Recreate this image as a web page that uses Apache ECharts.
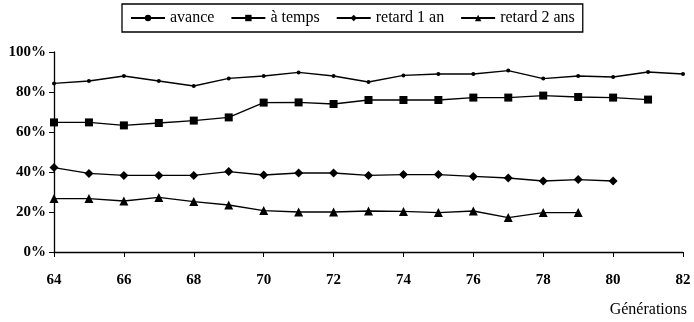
<!DOCTYPE html>
<html>
<head>
<meta charset="utf-8">
<script src="https://cdn.jsdelivr.net/npm/echarts@6/dist/echarts.min.js"></script>
<style>
  html, body { margin: 0; padding: 0; background: #fff; }
  #chart { width: 694px; height: 322px; }
</style>
</head>
<body>
<div id="chart"></div>
<script>
// générations (années)
var generations = [64, 65, 66, 67, 68, 69, 70, 71, 72, 73, 74, 75, 76, 77, 78, 79, 80, 81, 82]
// parts en %
var avance = [84.3, 85.5, 88, 85.5, 83, 86.8, 88, 89.8, 88, 85, 88.3, 89, 89, 90.7, 86.7, 88, 87.5, 90, 89]
var aTemps = [64.8, 64.8, 63.3, 64.5, 65.7, 67.3, 74.7, 74.8, 74, 76, 76, 76, 77.2, 77.2, 78.2, 77.5, 77.2, 76.2]
var retard1 = [42.2, 39.3, 38.3, 38.3, 38.3, 40.2, 38.5, 39.5, 39.5, 38.3, 38.7, 38.7, 37.8, 37, 35.5, 36.2, 35.5]
var retard2 = [26.7, 26.7, 25.5, 27.3, 25.2, 23.5, 20.7, 20, 20, 20.5, 20.3, 19.7, 20.5, 17.2, 19.7, 19.7]

var font = 'Liberation Serif'

function pairs (vals) {
  return vals.map(function (v, i) { return [generations[i], v] })
}

function serie (name, vals, symbol, size) {
  return {
    name: name,
    type: 'line',
    data: pairs(vals),
    symbol: symbol,
    symbolSize: size,
    showSymbol: true,
    color: '#000',
    lineStyle: { color: '#000', width: 1.3 },
    itemStyle: { color: '#000' },
    animation: false
  }
}

var charts = echarts.init(document.getElementById('chart'))
var options = {
  animation: false,
  textStyle: { fontFamily: font },
  legend: {
    top: 4,
    left: 122,
    borderColor: '#000',
    borderWidth: 1.3,
    padding: [6, 8],
    itemGap: 16,
    itemWidth: 34,
    itemHeight: 8,
    textStyle: { fontFamily: font, fontSize: 16, color: '#000' },
    data: ['avance', 'à temps', 'retard 1 an', 'retard 2 ans']
  },
  grid: { left: 54, right: 11, top: 52, bottom: 70 },
  xAxis: {
    type: 'value',
    min: 64,
    max: 82,
    interval: 2,
    axisLine: { show: true, onZero: false, lineStyle: { color: '#000', width: 1.3 } },
    axisTick: { show: true, length: 5, lineStyle: { color: '#000' } },
    splitLine: { show: false },
    axisLabel: { margin: 21, color: '#000', fontFamily: font, fontSize: 15, fontWeight: 'bold' }
  },
  yAxis: {
    type: 'value',
    min: 0,
    max: 100,
    interval: 20,
    axisLine: { show: true, lineStyle: { color: '#000', width: 1.3 } },
    axisTick: { show: true, length: 5, lineStyle: { color: '#000' } },
    splitLine: { show: false },
    axisLabel: { margin: 8, color: '#000', fontFamily: font, fontSize: 15, fontWeight: 'bold', formatter: '{value}%' }
  },
  graphic: [{
    type: 'text',
    right: 7,
    top: 302,
    style: { text: 'Générations', fontFamily: font, fontSize: 16, fill: '#000' }
  }],
  series: [
    serie('avance', avance, 'circle', 4),
    serie('à temps', aTemps, 'rect', 8),
    serie('retard 1 an', retard1, 'diamond', 9),
    serie('retard 2 ans', retard2, 'triangle', 9)
  ]
}
charts.setOption(options)
</script>
</body>
</html>
